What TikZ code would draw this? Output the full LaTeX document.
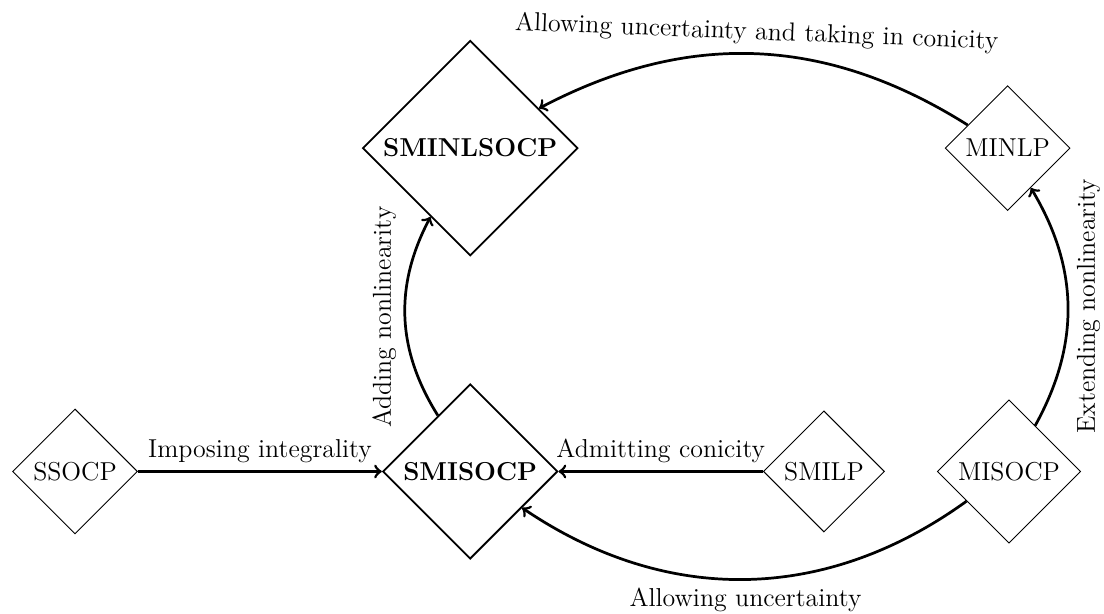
\documentclass[tikz,border=0pt]{standalone}
\usepackage{tikz}
\usetikzlibrary{shapes.geometric}
\tikzset{prob/.style={diamond, draw, inner sep=2.5pt}, mainprob/.style={prob, thick, font=\fontsize{11.4}{14}\bfseries}, link/.style={very thick, ->}}

\begin{document}
\begin{tikzpicture}[font=\fontsize{11.4}{14}\selectfont]
            \useasboundingbox (0,0) rectangle (17.07,9.49);
            \node[prob] (ssocp) at (1.16,2.20) {SSOCP};
            \node[mainprob] (smisocp) at (7.27,2.20) {SMISOCP};
            \node[mainprob] (sminlsocp) at (7.27,7.20) {SMINLSOCP};
            \node[prob] (smilp) at (12.74,2.20) {SMILP};
            \node[prob] (minlp) at (15.58,7.20) {MINLP};
            \node[prob] (misocp) at (15.60,2.20) {MISOCP};
            \draw[link] (ssocp) -- (smisocp) node[midway,above]{Imposing integrality};
            \draw[link] (smilp) -- (smisocp) node[midway,above]{Admitting conicity};
            \draw[link] (smisocp) to[bend left=30] node[midway,rotate=90,above]{Adding nonlinearity} (sminlsocp);
            \draw[link] (misocp) to[bend right=30] node[midway,rotate=90,below]{Extending nonlinearity} (minlp);
            \draw[link] (minlp) to[bend right=30] node[midway,sloped,above]{Allowing uncertainty and taking in conicity} (sminlsocp);
            \draw[link] (misocp) to[bend left=35] node[midway,below]{Allowing uncertainty} (smisocp);
        \end{tikzpicture}
\end{document}
